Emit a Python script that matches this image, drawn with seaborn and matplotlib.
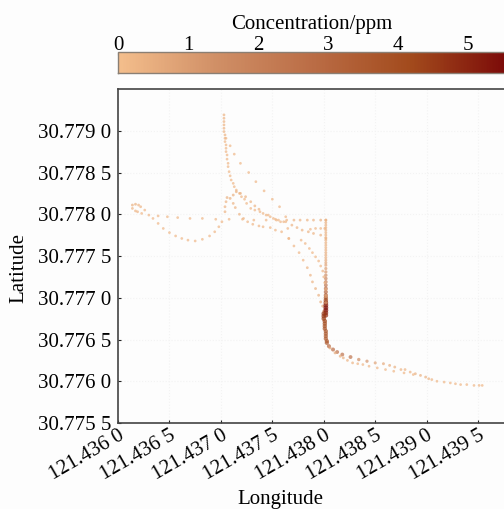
import numpy as np
import pandas as pd
import matplotlib.pyplot as plt
import seaborn as sns
from matplotlib.cm import ScalarMappable
from matplotlib.colors import LinearSegmentedColormap, Normalize

# upper track, from the top of the plot down to the corner
lon_a = [121.43703, 121.43703, 121.43703, 121.43703, 121.43703, 121.43703, 121.43704, 121.43704, 121.43704, 121.43705, 121.43705, 121.43705, 121.43706, 121.43706, 121.43707, 121.43707, 121.43708, 121.43709, 121.43710, 121.43712, 121.43713, 121.43715, 121.43718, 121.43720, 121.43723, 121.43725, 121.43729, 121.43733, 121.43738, 121.43744, 121.43748, 121.43753, 121.43758, 121.43763, 121.43769, 121.43774, 121.43779, 121.43785, 121.43790, 121.43797, 121.43802]
lat_a = [30.77919, 30.77915, 30.77911, 30.77907, 30.77903, 30.77899, 30.77895, 30.77891, 30.77887, 30.77883, 30.77879, 30.77875, 30.77871, 30.77866, 30.77861, 30.77857, 30.77851, 30.77846, 30.77841, 30.77837, 30.77833, 30.77829, 30.77825, 30.77821, 30.77818, 30.77813, 30.77807, 30.77805, 30.77803, 30.77799, 30.77797, 30.77794, 30.77791, 30.77791, 30.77787, 30.77784, 30.77781, 30.77779, 30.77777, 30.77775, 30.77771]
conc_a = [0.3, 0.3, 0.3, 0.3, 0.3, 0.3, 0.3, 0.3, 0.2, 0.2, 0.2, 0.2, 0.2, 0.2, 0.2, 0.2, 0.2, 0.2, 0.2, 0.2, 0.2, 0.2, 0.2, 0.2, 0.2, 0.2, 0.2, 0.2, 0.2, 0.2, 0.2, 0.2, 0.2, 0.2, 0.3, 0.3, 0.3, 0.3, 0.3, 0.3, 0.3]

# sparse outer curve
lon_b = [121.43705, 121.43709, 121.43713, 121.43719, 121.43727, 121.43734, 121.43742, 121.43750, 121.43757, 121.43763, 121.43766, 121.43771, 121.43776, 121.43780, 121.43784, 121.43787, 121.43789, 121.43792, 121.43795, 121.43797, 121.43799, 121.43800]
lat_b = [30.77891, 30.77882, 30.77872, 30.77861, 30.77850, 30.77839, 30.77828, 30.77818, 30.77809, 30.77797, 30.77771, 30.77762, 30.77754, 30.77745, 30.77736, 30.77727, 30.77719, 30.77711, 30.77703, 30.77695, 30.77690, 30.77684]
conc_b = [0.2, 0.2, 0.2, 0.2, 0.2, 0.2, 0.2, 0.2, 0.2, 0.2, 0.2, 0.2, 0.2, 0.2, 0.3, 0.3, 0.3, 0.4, 0.4, 0.5, 0.6, 0.8]

# loop on the left, over the hump and towards the corner
lon_c = [121.43614, 121.43617, 121.43620, 121.43622, 121.43626, 121.43630, 121.43634, 121.43639, 121.43644, 121.43650, 121.43656, 121.43662, 121.43668, 121.43675, 121.43682, 121.43689, 121.43694, 121.43698, 121.43701, 121.43704, 121.43704, 121.43705, 121.43706, 121.43709, 121.43712, 121.43714, 121.43718, 121.43722, 121.43726, 121.43731, 121.43737, 121.43741, 121.43748, 121.43753, 121.43759, 121.43765]
lat_c = [30.77811, 30.77812, 30.77811, 30.77809, 30.77805, 30.77799, 30.77795, 30.77789, 30.77783, 30.77778, 30.77774, 30.77771, 30.77769, 30.77768, 30.77770, 30.77774, 30.77779, 30.77785, 30.77791, 30.77803, 30.77809, 30.77815, 30.77820, 30.77819, 30.77813, 30.77808, 30.77800, 30.77795, 30.77791, 30.77788, 30.77786, 30.77785, 30.77784, 30.77781, 30.77779, 30.77783]
conc_c = [0.4, 0.4, 0.3, 0.3, 0.2, 0.2, 0.2, 0.2, 0.2, 0.2, 0.2, 0.2, 0.2, 0.2, 0.2, 0.2, 0.2, 0.2, 0.2, 0.3, 0.3, 0.3, 0.4, 0.4, 0.3, 0.3, 0.3, 0.2, 0.2, 0.2, 0.2, 0.2, 0.2, 0.2, 0.2, 0.2]

# nearly flat track from the loop to the vertical
lon_d = [121.43614, 121.43617, 121.43619, 121.43623, 121.43639, 121.43648, 121.43658, 121.43670, 121.43682, 121.43695, 121.43708, 121.43721, 121.43732, 121.43744, 121.43754, 121.43764, 121.43771, 121.43777, 121.43784, 121.43790, 121.43797, 121.43802]
lat_d = [30.77807, 30.77804, 30.77803, 30.77801, 30.77798, 30.77797, 30.77796, 30.77795, 30.77795, 30.77794, 30.77794, 30.77794, 30.77793, 30.77793, 30.77793, 30.77793, 30.77793, 30.77793, 30.77793, 30.77793, 30.77793, 30.77793]
conc_d = [0.3, 0.3, 0.3, 0.2, 0.2, 0.2, 0.2, 0.2, 0.2, 0.2, 0.2, 0.2, 0.2, 0.2, 0.2, 0.2, 0.3, 0.3, 0.3, 0.3, 0.4, 0.4]

# vertical run at 121.4380
lat_v = [30.77793, 30.77790, 30.77787, 30.77784, 30.77781, 30.77778, 30.77775, 30.77772, 30.77769, 30.77766, 30.77763, 30.77760, 30.77757, 30.77754, 30.77751, 30.77748, 30.77745, 30.77742, 30.77739, 30.77735, 30.77731, 30.77727, 30.77723, 30.77719, 30.77715, 30.77711, 30.77707, 30.77703, 30.77700, 30.77697, 30.77694, 30.77691, 30.77688, 30.77685, 30.77682, 30.77679]
lon_v = [121.43802, 121.43802, 121.43802, 121.43802, 121.43802, 121.43802, 121.43802, 121.43802, 121.43802, 121.43802, 121.43802, 121.43802, 121.43802, 121.43802, 121.43802, 121.43802, 121.43802, 121.43802, 121.43802, 121.43802, 121.43802, 121.43802, 121.43802, 121.43802, 121.43802, 121.43802, 121.43802, 121.43802, 121.43802, 121.43802, 121.43802, 121.43802, 121.43802, 121.43802, 121.43802, 121.43802]
conc_v = [0.4, 0.4, 0.4, 0.4, 0.4, 0.4, 0.4, 0.4, 0.4, 0.4, 0.4, 0.4, 0.4, 0.5, 0.5, 0.5, 0.6, 0.7, 0.8, 1.0, 1.2, 1.5, 1.8, 2.0, 2.4, 2.8, 3.0, 3.4, 3.7, 4.2, 4.8, 5.2, 5.4, 5.4, 5.0, 4.8]

# dark slanted section just above the corner at the bottom
lon_s = [121.43800, 121.43800, 121.43800, 121.43801, 121.43801, 121.43801, 121.43801, 121.43802, 121.43802, 121.43802, 121.43802, 121.43803, 121.43803]
lat_s = [30.77681, 30.77678, 30.77675, 30.77672, 30.77669, 30.77666, 30.77663, 30.77660, 30.77657, 30.77654, 30.77651, 30.77648, 30.77646]
conc_s = [4.6, 4.6, 4.4, 4.2, 4.0, 3.8, 3.8, 3.6, 3.6, 3.5, 3.5, 3.5, 3.4]

# tail to the lower right, upper edge
lon_e = [121.43805, 121.43809, 121.43813, 121.43818, 121.43826, 121.43834, 121.43842, 121.43850, 121.43858, 121.43864, 121.43869, 121.43875, 121.43879, 121.43884, 121.43889, 121.43894, 121.43899, 121.43902, 121.43905, 121.43910, 121.43917, 121.43923, 121.43928, 121.43933, 121.43939, 121.43946, 121.43951, 121.43954]
lat_e = [30.77642, 30.77638, 30.77635, 30.77632, 30.77629, 30.77626, 30.77624, 30.77622, 30.77621, 30.77619, 30.77617, 30.77614, 30.77614, 30.77611, 30.77609, 30.77607, 30.77605, 30.77603, 30.77602, 30.77600, 30.77599, 30.77598, 30.77597, 30.77596, 30.77596, 30.77595, 30.77595, 30.77595]
conc_e = [3.0, 2.8, 2.5, 2.5, 2.5, 1.5, 1.2, 0.8, 0.6, 0.5, 0.4, 0.3, 0.3, 0.3, 0.4, 0.4, 0.4, 0.3, 0.3, 0.2, 0.2, 0.2, 0.2, 0.2, 0.2, 0.2, 0.2, 0.2]

# tail, lower edge
lon_f = [121.43806, 121.43811, 121.43816, 121.43819, 121.43823, 121.43828, 121.43833, 121.43838, 121.43844, 121.43852, 121.43860, 121.43868, 121.43878, 121.43887]
lat_f = [30.77640, 30.77634, 30.77630, 30.77628, 30.77625, 30.77622, 30.77621, 30.77620, 30.77618, 30.77616, 30.77614, 30.77612, 30.77610, 30.77608]
conc_f = [0.8, 0.6, 0.5, 0.4, 0.3, 0.3, 0.2, 0.2, 0.2, 0.2, 0.2, 0.2, 0.2, 0.2]

# inner curves that join the vertical
lon_g = [121.43766, 121.43778, 121.43782, 121.43786, 121.43789, 121.43792, 121.43795, 121.43797, 121.43799, 121.43800, 121.43801, 121.43802, 121.43802, 121.43802, 121.43787, 121.43792, 121.43797, 121.43801]
lat_g = [30.77771, 30.77769, 30.77765, 30.77759, 30.77754, 30.77749, 30.77744, 30.77738, 30.77732, 30.77725, 30.77718, 30.77710, 30.77702, 30.77694, 30.77782, 30.77783, 30.77783, 30.77783]
conc_g = [0.2, 0.2, 0.2, 0.2, 0.2, 0.2, 0.2, 0.2, 0.3, 0.3, 0.4, 0.6, 0.8, 1.2, 0.2, 0.2, 0.2, 0.3]

# second band through the middle of the cluster
lon_h = [121.43712, 121.43715, 121.43719, 121.43724, 121.43729, 121.43733, 121.43737, 121.43741, 121.43746, 121.43751, 121.43756, 121.43761]
lat_h = [30.77823, 30.77827, 30.77825, 30.77821, 30.77815, 30.77810, 30.77806, 30.77801, 30.77799, 30.77795, 30.77793, 30.77791]
conc_h = [0.4, 0.4, 0.4, 0.3, 0.3, 0.3, 0.3, 0.2, 0.2, 0.2, 0.2, 0.2]

x_ticks = [121.4360, 121.4365, 121.4370, 121.4375, 121.4380, 121.4385, 121.4390, 121.4395]
x_labels = ['121.436 0', '121.436 5', '121.437 0', '121.437 5', '121.438 0', '121.438 5', '121.439 0', '121.439 5']
y_ticks = [30.7755, 30.7760, 30.7765, 30.7770, 30.7775, 30.7780, 30.7785, 30.7790]
y_labels = ['30.775 5', '30.776 0', '30.776 5', '30.777 0', '30.777 5', '30.778 0', '30.778 5', '30.779 0']
bar_ticks = [0, 1, 2, 3, 4, 5]

df = pd.DataFrame({
    'lon': lon_a + lon_b + lon_c + lon_d + lon_v + lon_s + lon_e + lon_f + lon_g + lon_h,
    'lat': lat_a + lat_b + lat_c + lat_d + lat_v + lat_s + lat_e + lat_f + lat_g + lat_h,
    'conc': conc_a + conc_b + conc_c + conc_d + conc_v + conc_s + conc_e + conc_f + conc_g + conc_h,
})

sns.set_theme(style='white')
plt.rcParams['font.family'] = ['Liberation Serif', 'DejaVu Serif']
plt.rcParams['text.color'] = '#000000'
plt.rcParams['axes.labelcolor'] = '#000000'
plt.rcParams['xtick.color'] = '#000000'
plt.rcParams['ytick.color'] = '#000000'

cmap = LinearSegmentedColormap.from_list('conc', ['#F4BE8C', '#D08F66', '#BA6C45', '#A24A1C', '#7A0808'])
norm = Normalize(0, 5.6)

fig = plt.figure(figsize=(5.04, 5.09), dpi=100, facecolor='#FDFDFD')
ax = fig.add_axes([118 / 504, 86 / 509, 392 / 504, 334 / 509], facecolor='#FDFDFD')
sns.scatterplot(data=df, x='lon', y='lat', hue='conc', size='conc', palette=cmap, hue_norm=norm,
                sizes=(3.5, 13), size_norm=norm, linewidth=0, alpha=0.7, legend=False, ax=ax)
ax.set_xlim(121.4360, 121.43981)
ax.set_ylim(30.7755, 30.7795)
ax.set_xticks(x_ticks)
ax.set_xticklabels(x_labels, rotation=30, ha='right', rotation_mode='anchor', fontsize=15)
ax.set_yticks(y_ticks)
ax.set_yticklabels(y_labels, fontsize=15)
ax.tick_params(direction='in', length=2.5, width=0.8, color='#222222', bottom=True, left=True)
ax.tick_params(axis='y', pad=5)
ax.tick_params(axis='x', pad=2)
ax.grid(True, color='#F3F3F3', linestyle=':', linewidth=0.8)
ax.set_axisbelow(True)
ax.set_xlabel('Longitude', fontsize=15, va='top')
ax.set_ylabel('Latitude', fontsize=15, va='bottom')
ax.xaxis.set_label_coords(0.413, -0.2)
ax.yaxis.set_label_coords(-0.228, 0.464)
for side in ['left', 'top', 'bottom']:
    ax.spines[side].set_color('#444444')
    ax.spines[side].set_linewidth(1.2)
ax.spines['right'].set_visible(False)

cax = fig.add_axes([118 / 504, 436 / 509, 392 / 504, 21 / 509])
cb = fig.colorbar(ScalarMappable(norm=norm, cmap=cmap), cax=cax, orientation='horizontal', ticklocation='top')
cb.set_ticks(bar_ticks)
cb.ax.tick_params(direction='in', length=2.5, width=0.8, color='#555555', labelsize=15, pad=-2)
cb.outline.set_edgecolor('#8A7F74')
cb.outline.set_linewidth(1)
cb.set_label('Concentration/ppm', fontsize=15)
cb.ax.xaxis.set_label_coords((312 - 118) / 392, 2.1)

fig.savefig('out.png', dpi=100, facecolor=fig.get_facecolor())
